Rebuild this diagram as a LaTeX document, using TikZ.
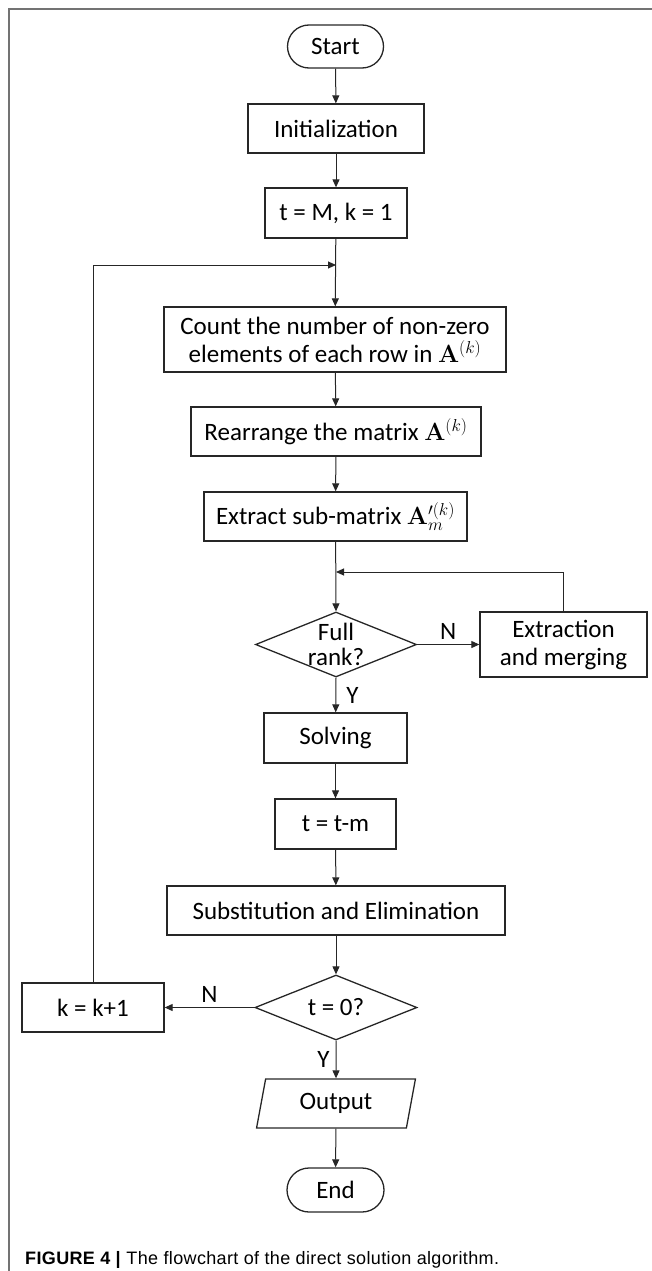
\documentclass[tikz,border=0pt]{standalone}
\usepackage[no-math]{fontspec}
\setmainfont{Carlito}
\newfontfamily\capfont[LetterSpace=2]{Liberation Sans}
\usetikzlibrary{shapes.geometric,shapes.misc,arrows.meta}
\tikzset{
  box/.style={draw=black!85, line width=1.3pt, inner sep=0pt, align=center, font=\fontsize{25}{28}\selectfont},
  term/.style={box, rounded rectangle},
  dia/.style={draw=black!85, line width=1.3pt, diamond, inner sep=0pt},
  io/.style={box, trapezium, trapezium left angle=77, trapezium right angle=103, trapezium stretches=true},
  arr/.style={draw=black!85, line width=1pt, -{Triangle[length=8pt,width=7pt]}},
  lbl/.style={font=\fontsize{25}{28}\selectfont, inner sep=0pt},
  frame/.style={draw=black!55, line width=1.3pt}
}
\begin{document}
\begin{tikzpicture}[x=1pt,y=-1pt]
\useasboundingbox (0,0) rectangle (652,1271);
\draw[frame] (9,1271) -- (9,9) -- (652,9);

\node[term, minimum width=96, minimum height=43] (start) at (335.5,46.5) {Start};
\node[box, minimum width=176, minimum height=49] (init) at (336,128.5) {Initialization};
\node[box, minimum width=142, minimum height=50] (tm) at (336,213) {t = M, k = 1};
\node[box, minimum width=342, minimum height=65] (count) at (335,339.5) {Count the number of non-zero\\elements of each row in $\mathbf{A}^{(k)}$};
\node[box, minimum width=290, minimum height=49] (rear) at (336,431.5) {Rearrange the matrix $\mathbf{A}^{(k)}$};
\node[box, minimum width=263, minimum height=49] (extr) at (335.5,516.5) {Extract sub-matrix $\mathbf{A}_m^{\prime(k)}$};
\node[dia, minimum width=161, minimum height=65] (d1) at (336,644.5) {};
\node[lbl, align=center, font=\fontsize{25}{25}\selectfont] (d1t) at (d1.center) {Full\\rank?};
\node[box, minimum width=167, minimum height=65] (merge) at (563.5,644.5) {Extraction\\and merging};
\node[box, minimum width=143, minimum height=50] (solve) at (335.5,738) {Solving};
\node[box, minimum width=121, minimum height=50] (ttm) at (335.5,824) {t = t-m};
\node[box, minimum width=338, minimum height=49] (subs) at (336,910.5) {Substitution and Elimination};
\node[dia, minimum width=162, minimum height=65] (d2) at (336,1007.5) {};
\node[lbl] (d2t) at (d2.center) {t = 0?};
\node[box, minimum width=142, minimum height=49] (kk) at (93,1007.5) {k = k+1};
\node[io, minimum width=160, minimum height=49] (out) at (336,1103.5) {Output};
\node[term, minimum width=97, minimum height=44] (end) at (335.5,1190) {End};

\coordinate (j1) at (336,265);
\coordinate (j2) at (336,572);

\draw[arr] (start) -- (init);
\draw[arr] (init) -- (tm);
\draw[arr] (tm) -- (count);
\draw[arr] (kk.north) |- (j1);
\draw[arr] (count) -- (rear);
\draw[arr] (rear) -- (extr);
\draw[arr] (extr) -- (d1.north);
\draw[arr] (merge.north) |- (j2);
\draw[arr] (d1.east) -- node[lbl, above=5pt] (n1) {N} (merge.west);
\draw[arr] (d1.south) -- node[lbl, right=10pt] (y1) {Y} (solve);
\draw[arr] (solve) -- (ttm);
\draw[arr] (ttm) -- (subs);
\draw[arr] (subs) -- (d2.north);
\draw[arr] (d2.west) -- node[lbl, above=5pt] (n2) {N} (kk.east);
\draw[arr] (d2.south) -- node[lbl, left=6pt] (y2) {Y} (out);
\draw[arr] (out) -- (end);

\node[anchor=base west, inner sep=0pt, font=\capfont\fontsize{18}{21}\selectfont] (cap) at (25,1264) {\textbf{FIGURE 4 |} The flowchart of the direct solution algorithm.};
\end{tikzpicture}
\end{document}
